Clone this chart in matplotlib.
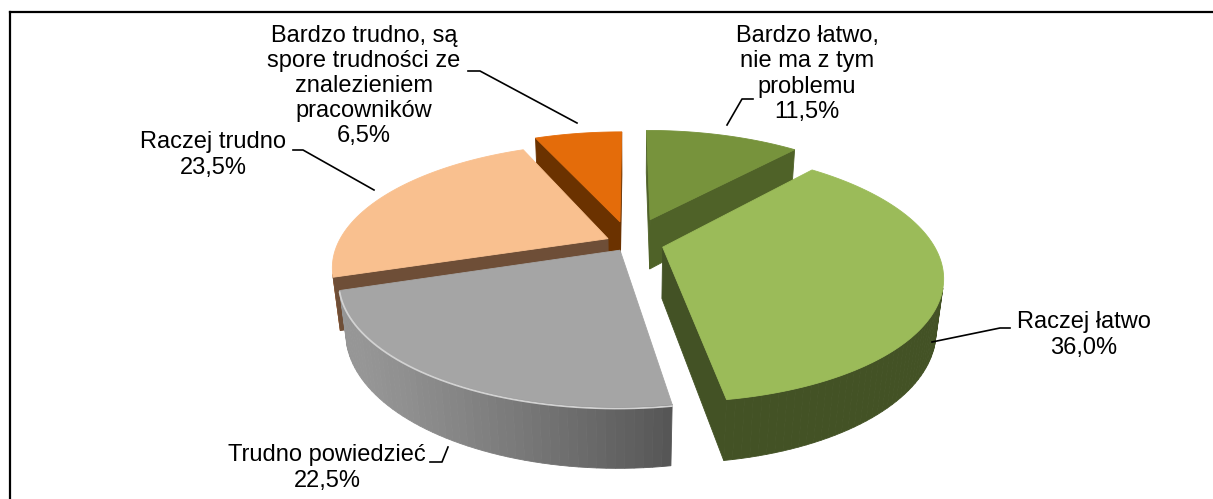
import numpy as np
import matplotlib
matplotlib.use('Agg')
import matplotlib.pyplot as plt
from matplotlib.patches import Polygon
from matplotlib.colors import to_rgb

# ---------------- data ----------------
labels = ['Bardzo łatwo,\nnie ma z tym\nproblemu',
          'Raczej łatwo',
          'Trudno powiedzieć',
          'Raczej trudno',
          'Bardzo trudno, są\nspore trudności ze\nznalezieniem\npracowników']
values = [11.5, 36.0, 22.5, 23.5, 6.5]

# ---------------- style ----------------
top_colors = ['#77933C', '#9BBB59', '#A5A5A5', '#F9C08F', '#E46C0A']
side_colors = ['#4F6228', '#435225', '#555555', '#6E4E37', '#6B3200']
explode = [0.22, 0.125, 0.07, 0.09, 0.19]

label_pos = [(807, 74), (1084, 335), (327, 468), (213, 155), (364, 86)]
leaders = [[(753, 99), (742, 99), (727, 125)],
           [(1010, 328), (1000, 328), (932, 342)],
           [(430, 462), (442, 462), (448, 447)],
           [(293, 150), (303, 150), (374, 190)],
           [(468, 71), (480, 71), (577, 123)]]

W, H = 1213, 499
fig = plt.figure(figsize=(W / 100, H / 100), dpi=100)
ax = fig.add_axes([0, 0, 1, 1])
ax.set_xlim(0, W)
ax.set_ylim(H, 0)
ax.axis('off')

# ---------------- 3D projection ----------------
elev = np.radians(26)
ce, se = np.cos(elev), np.sin(elev)
D = 4.05
S = 270.0
F = S * D
CX, CY = 630, 243
THICK = 0.215
cam = np.array([0.0, -D * ce, D * se])
Ldir = np.array([-0.9, -0.44])
Ldir = Ldir / np.linalg.norm(Ldir)


def proj(p):
    x, y, z = p
    depth = D + y * ce - z * se
    return (CX + F * x / depth, CY - F * (y * se + z * ce) / depth)


def shade(col, f):
    r, g, b = to_rgb(col)
    return (min(r * f, 1), min(g * f, 1), min(b * f, 1))


total = float(sum(values))
cum = np.concatenate([[0], np.cumsum(values)]) / total * 360.0

slices = []
for i in range(len(values)):
    a0, a1 = cum[i], cum[i + 1]
    m = np.radians((a0 + a1) / 2)
    ox, oy = explode[i] * np.sin(m), explode[i] * np.cos(m)
    n = max(int((a1 - a0) / 1.5), 4)
    th = np.radians(np.linspace(a0, a1, n))
    px = ox + np.sin(th)
    py = oy + np.cos(th)
    faces = []
    # outer wall
    for k in range(n - 1):
        tm = (th[k] + th[k + 1]) / 2
        nrm = np.array([np.sin(tm), np.cos(tm), 0.0])
        pm = np.array([(px[k] + px[k + 1]) / 2, (py[k] + py[k + 1]) / 2, -THICK / 2])
        if np.dot(nrm, cam - pm) > 0:
            L = np.dot(nrm[:2], Ldir)
            f = 1 + 0.76 * np.clip((L - 0.29) / 0.7, 0, 1)
            quad = [(px[k], py[k], 0), (px[k + 1], py[k + 1], 0),
                    (px[k + 1], py[k + 1], -THICK), (px[k], py[k], -THICK)]
            faces.append(([proj(q) for q in quad], shade(side_colors[i], f)))
    # radial walls
    for ang, nrm2 in [(np.radians(a0), (-np.cos(np.radians(a0)), np.sin(np.radians(a0)))),
                      (np.radians(a1), (np.cos(np.radians(a1)), -np.sin(np.radians(a1))))]:
        ex, ey = ox + np.sin(ang), oy + np.cos(ang)
        nrm = np.array([nrm2[0], nrm2[1], 0.0])
        pm = np.array([(ox + ex) / 2, (oy + ey) / 2, -THICK / 2])
        if np.dot(nrm, cam - pm) > 0:
            quad = [(ox, oy, 0), (ex, ey, 0), (ex, ey, -THICK), (ox, oy, -THICK)]
            faces.append(([proj(q) for q in quad], to_rgb(side_colors[i])))
    top = [proj((ox, oy, 0))] + [proj((px[k], py[k], 0)) for k in range(n)]
    cen = np.array([ox + 0.5 * np.sin(m), oy + 0.5 * np.cos(m), 0])
    dist = np.linalg.norm(cam - cen)
    slices.append((dist, i, faces, top, [proj((px[k], py[k], 0)) for k in range(n)]))

slices.sort(key=lambda s: -s[0])
for dist, i, faces, top, arc in slices:
    for poly, col in faces:
        ax.add_patch(Polygon(poly, closed=True, facecolor=col, edgecolor=col, lw=0.6))
    ax.add_patch(Polygon(top, closed=True, facecolor=top_colors[i], edgecolor=top_colors[i], lw=0.6))
    if i == 2:
        arr = np.array(arc)
        ax.plot(arr[:, 0], arr[:, 1] + 1.5, color='#D2D2D2', lw=1.3, solid_capstyle='round')

# ---------------- labels ----------------
for i in range(len(values)):
    txt = labels[i] + '\n' + ('%.1f' % values[i]).replace('.', ',') + '%'
    ax.text(label_pos[i][0], label_pos[i][1], txt, ha='center', va='center',
            multialignment='center', fontsize=17, family=['Liberation Sans', 'DejaVu Sans'],
            color='black', linespacing=1.18)
    lx = [p[0] for p in leaders[i]]
    ly = [p[1] for p in leaders[i]]
    ax.plot(lx, ly, color='black', lw=1.2)

# frame
ax.plot([9.5, W], [11.5, 11.5], color='black', lw=1.6)
ax.plot([9.5, 9.5], [11.5, H], color='black', lw=1.6)

fig.savefig('out.png', dpi=100)
